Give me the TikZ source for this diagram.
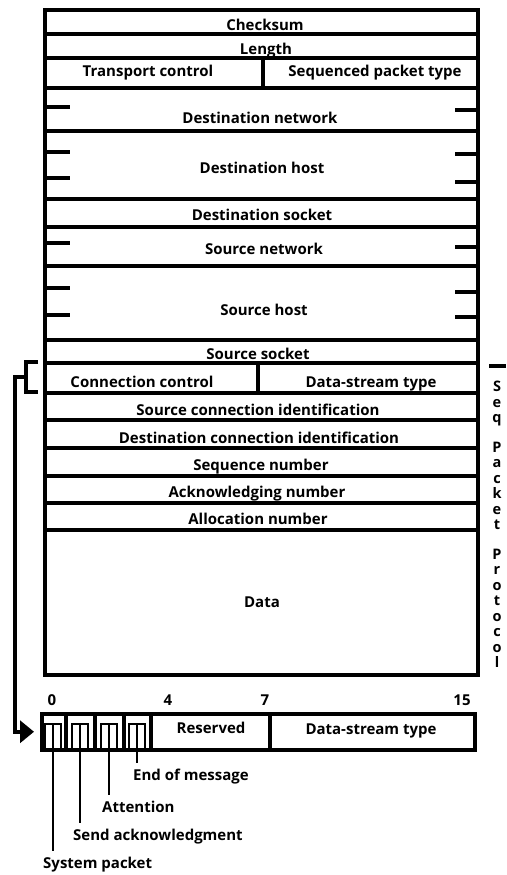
\documentclass[tikz,border=0pt]{standalone}
\usepackage{fontspec}
\setmainfont{Open Sans}
\usetikzlibrary{arrows.meta}

\tikzset{
  lbl/.style={font=\fontsize{15}{17}\selectfont\bfseries, inner sep=0pt, anchor=base},
  vlbl/.style={font=\fontsize{14.5}{15.5}\selectfont\bfseries, inner sep=0pt, align=center, anchor=north},
  frame/.style={line width=4pt},
  rule/.style={line width=3.5pt},
  pin/.style={line width=2.5pt},
}

\begin{document}
\begin{tikzpicture}[x=1pt,y=-1pt]
  \useasboundingbox (0,0) rectangle (506,875);
  % packet frame and field rows
  \coordinate (TL) at (45,10);
  \coordinate (BR) at (478,675);
  \draw[frame] (TL) rectangle (BR);
  \foreach \y in {34,58,88,131,199,227,266,340,363,393,420,448,476,503,530}
    \draw[rule] (45,\y) -- (478,\y);
  \draw[rule] (263,58) -- (263,88);
  \draw[rule] (258,363) -- (258,393);
  % word marks on the long fields
  \foreach \y in {107,152,178,243,288,315}
    \draw[rule] (45,\y) -- (70,\y);
  \foreach \y in {110,154,182,247,292,317}
    \draw[rule] (455,\y) -- (478,\y);

  \node[lbl] (chk) at (265,31) {Checksum};
  \node[lbl] (len) at (266,55) {Length};
  \node[lbl] (tc) at (148,77) {Transport control};
  \node[lbl] (spt) at (375,77) {Sequenced packet type};
  \node[lbl] (dnet) at (260,123) {Destination network};
  \node[lbl] (dhost) at (262,173) {Destination host};
  \node[lbl] (dsock) at (262,220) {Destination socket};
  \node[lbl] (snet) at (264,254) {Source network};
  \node[lbl] (shost) at (264,315) {Source host};
  \node[lbl] (ssock) at (258,359) {Source socket};
  \node[lbl] (cc) at (142,387) {Connection control};
  \node[lbl] (dst) at (371,387) {Data-stream type};
  \node[lbl] (scid) at (258,415) {Source connection identification};
  \node[lbl] (dcid) at (259,443) {Destination connection identification};
  \node[lbl] (seqn) at (261,470) {Sequence number};
  \node[lbl] (ackn) at (257,497) {Acknowledging number};
  \node[lbl] (alloc) at (258,524) {Allocation number};
  \node[lbl] (data) at (262,607) {Data};

  % protocol side label
  \draw[rule] (489,366) -- (506,366);
  \node[vlbl] (spp) at (497,381) {S\\e\\q\\[14pt]P\\a\\c\\k\\e\\t\\[14pt]P\\r\\o\\t\\o\\c\\o\\l};

  % connection control bit field
  \node[lbl] (b0) at (52,705) {0};
  \node[lbl] (b4) at (168,705) {4};
  \node[lbl] (b7) at (265,705) {7};
  \node[lbl] (b15) at (462,705) {15};
  \node[draw, rule, minimum width=433pt, minimum height=36pt, inner sep=0pt, anchor=north west] (bits) at (40,712) {};
  \foreach \x in {66,95,124,151,270}
    \draw[rule] (\x,712) -- (\x,748);
  \node[lbl] (res) at (211,733) {Reserved};
  \node[lbl] (dst2) at (371,734) {Data-stream type};
  \foreach \cx/\nm in {53/c1,80/c2,109/c3,137/c4} {
    \draw[pin] (\cx-8,748) -- (\cx-8,724) -- (\cx+8,724) -- (\cx+8,748);
    \coordinate (\nm) at (\cx,724);
  }
  \node[lbl, anchor=base west] (eom) at (133,780) {End of message};
  \node[lbl, anchor=base west] (att) at (102,812) {Attention};
  \node[lbl, anchor=base west] (sack) at (73,840) {Send acknowledgment};
  \node[lbl, anchor=base west] (sys) at (43,868) {System packet};
  \draw[pin, shorten >=5pt] (c4) -- (c4 |- eom.north);
  \draw[pin, shorten >=5pt] (c3) -- (c3 |- att.north);
  \draw[pin, shorten >=5pt] (c2) -- (c2 |- sack.north);
  \draw[pin, shorten >=5pt] (c1) -- (c1 |- sys.north);

  % bracket from connection control down to the bit field
  \coordinate (ccT) at (38,362);
  \coordinate (ccB) at (38,392);
  \coordinate (brk) at (26,377);
  \draw[rule] (ccT) -- (26,362) -- (26,392) -- (ccB);
  \draw[rule, -{Triangle[length=14pt,width=22pt]}] (brk) -- (15,377) |- ([xshift=-6pt]bits.west);
\end{tikzpicture}
\end{document}
